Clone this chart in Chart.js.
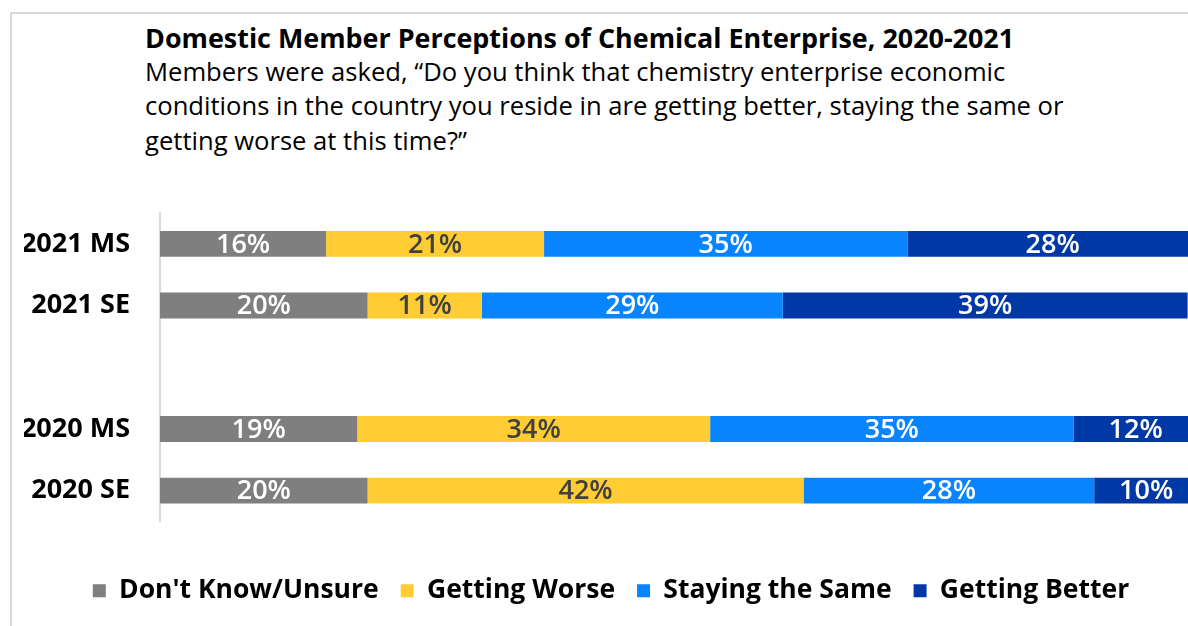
<!DOCTYPE html>
<html>
<head>
<meta charset="utf-8">
<script src="https://cdn.jsdelivr.net/npm/chart.js@4.4.0/dist/chart.umd.min.js"></script>
<style>
html, body { margin: 0; padding: 0; width: 1188px; height: 626px; overflow: hidden; background: #fff; }
#frame { position: absolute; left: 10px; top: 12px; width: 1300px; height: 700px; border: 2px solid #d9d9d9; box-sizing: border-box; }
#heading { position: absolute; left: 145px; top: 21px; font-family: 'Open Sans', sans-serif; color: #000; white-space: nowrap; }
#heading div { height: 34.2px; line-height: 34.2px; font-size: 25.6px; }
#heading .main { font-size: 26.9px; font-weight: bold; }
#wrap { position: absolute; left: 0; top: 0; width: 1222px; height: 626px; }
</style>
</head>
<body>
<div id="frame"></div>
<div id="heading">
  <div class="main">Domestic Member Perceptions of Chemical Enterprise, 2020-2021</div>
  <div>Members were asked, “Do you think that chemistry enterprise economic</div>
  <div>conditions in the country you reside in are getting better, staying the same or</div>
  <div>getting worse at this time?”</div>
</div>
<div id="wrap"><canvas id="myChart"></canvas></div>
<script>
'use strict';

// categories (blank one keeps the gap between years)
let groups = ['2021 MS', '2021 SE', '', '2020 MS', '2020 SE'];
let seriesNames = ["Don't Know/Unsure", 'Getting Worse', 'Staying the Same', 'Getting Better'];
let dontKnow = [16, 20, null, 19, 20];
let gettingWorse = [21, 11, null, 34, 42];
let stayingSame = [35, 29, null, 35, 28];
let gettingBetter = [28, 39, null, 12, 10];

let barColors = ['#7f7f7f', '#ffcc33', '#0984ff', '#0039a6'];
let labelColors = ['#ffffff', '#404040', '#ffffff', '#ffffff'];

let barLabels = {
    id: 'barLabels',
    afterDatasetsDraw: function (chart) {
        let ctx = chart.ctx;
        chart.data.datasets.forEach((ds, i) => {
            let meta = chart.getDatasetMeta(i);
            meta.data.forEach((bar, j) => {
                let v = ds.data[j];
                if (v === null || v === undefined) return;
                let p = bar.getProps(['x', 'y', 'base'], true);
                ctx.save();
                ctx.font = '600 27px "Open Sans"';
                ctx.fillStyle = labelColors[i];
                ctx.textAlign = 'center';
                ctx.textBaseline = 'middle';
                ctx.fillText(v + '%', (p.x + p.base) / 2, p.y + 1);
                ctx.restore();
            });
        });
    }
};

let allData = [dontKnow, gettingWorse, stayingSame, gettingBetter];
let datasets = [];
for (let i = 0; i < seriesNames.length; i++) {
    datasets.push({
        label: seriesNames[i],
        data: allData[i],
        backgroundColor: barColors[i],
        borderWidth: 0,
        barPercentage: 0.42,
        categoryPercentage: 1
    });
}

let ctx = document.getElementById('myChart').getContext('2d');
let chart = new Chart(ctx, {
    type: 'bar',
    data: { labels: groups, datasets: datasets },
    plugins: [barLabels],
    options: {
        indexAxis: 'y',
        responsive: true,
        maintainAspectRatio: false,
        animation: false,
        layout: { padding: { top: 213, left: 24, right: 24, bottom: 12 } },
        scales: {
            x: {
                stacked: true,
                min: 0,
                max: 100,
                ticks: { display: false },
                grid: { display: false },
                border: { display: false },
                afterFit: function (scale) { scale.height = 34; }
            },
            y: {
                stacked: true,
                grid: { display: false, drawTicks: false },
                border: { display: true, color: '#d9d9d9', width: 2 },
                ticks: {
                    padding: 30,
                    color: '#000',
                    font: { family: 'Open Sans', size: 27, weight: 'bold' }
                },
                afterFit: function (scale) { scale.width = 136; }
            }
        },
        plugins: {
            legend: {
                position: 'bottom',
                labels: {
                    boxWidth: 13,
                    boxHeight: 13,
                    padding: 22,
                    color: '#000',
                    font: { family: 'Open Sans', size: 26.5, weight: 'bold' }
                }
            },
            tooltip: { enabled: false }
        }
    }
});
</script>
</body>
</html>
